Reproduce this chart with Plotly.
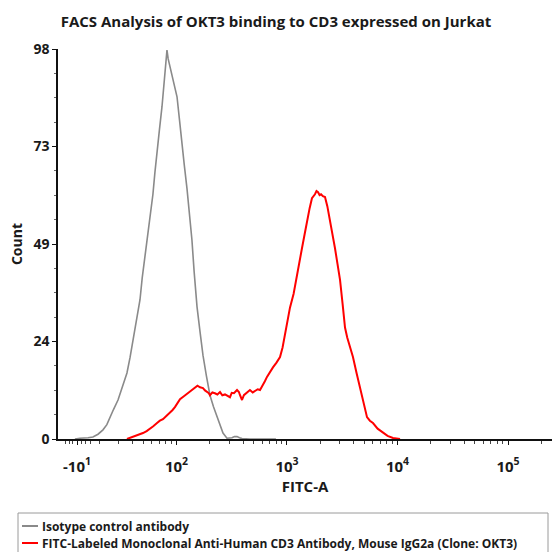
import numpy as np
import plotly.graph_objects as go

# ---- data (x in display units: decade position on the biexponential FITC axis) ----
iso_x = [1.081, 1.127, 1.200, 1.244, 1.290, 1.335, 1.370, 1.398, 1.430, 1.471, 1.510, 1.552,
         1.580, 1.606, 1.640, 1.670, 1.690, 1.715, 1.742, 1.765, 1.787, 1.805, 1.824, 1.845,
         1.869, 1.885, 1.896, 1.905, 1.914, 1.925, 1.941, 1.959, 1.980, 2.005, 2.028, 2.050,
         2.070, 2.095, 2.118, 2.140, 2.160, 2.186, 2.213, 2.240, 2.270, 2.303, 2.335, 2.367,
         2.395, 2.421, 2.457, 2.480, 2.502, 2.525, 2.548, 2.570, 2.593, 2.665, 2.900]
iso_y = [0.0, 0.2, 0.3, 0.5, 1.2, 2.3, 3.6, 5.5, 7.4, 9.8, 13.0, 16.6,
         20.5, 25.0, 30.0, 35.0, 40.5, 46.0, 52.0, 57.0, 61.5, 67.0, 73.0, 77.5,
         83.5, 88.0, 91.5, 95.5, 97.7, 95.5, 93.5, 91.9, 89.0, 86.0, 80.0, 75.0,
         69.0, 63.0, 56.5, 50.0, 42.0, 33.2, 27.0, 21.0, 16.0, 11.0, 8.1, 5.6,
         3.4, 1.5, 0.2, 0.2, 0.3, 0.6, 0.6, 0.3, 0.1, 0.0, 0.0]

okt3_x = [1.552, 1.590, 1.624, 1.660, 1.697, 1.730, 1.760, 1.790, 1.824, 1.850, 1.878, 1.910,
          1.941, 1.965, 1.986, 2.010, 2.032, 2.070, 2.104, 2.135, 2.167, 2.190, 2.213, 2.240,
          2.258, 2.276, 2.290, 2.303, 2.325, 2.348, 2.370, 2.394, 2.415, 2.439, 2.460, 2.484,
          2.500, 2.520, 2.548, 2.565, 2.575, 2.593, 2.610, 2.629, 2.650, 2.665, 2.690, 2.710,
          2.735, 2.756, 2.783, 2.800, 2.819, 2.845, 2.873, 2.905, 2.937, 2.960, 2.982, 3.005,
          3.027, 3.060, 3.090, 3.113, 3.136, 3.160, 3.181, 3.205, 3.226, 3.240, 3.253, 3.267,
          3.281, 3.295, 3.308, 3.325, 3.344, 3.365, 3.389, 3.410, 3.434, 3.457, 3.480, 3.503,
          3.525, 3.545, 3.561, 3.580, 3.597, 3.630, 3.661, 3.690, 3.724, 3.750, 3.778, 3.820,
          3.869, 3.910, 3.959, 4.023]
okt3_y = [0.0, 0.4, 0.6, 1.0, 1.5, 2.0, 2.5, 3.2, 4.0, 4.6, 5.0, 5.8,
          6.5, 7.3, 8.0, 9.0, 10.0, 10.8, 11.5, 12.3, 13.0, 13.4, 13.0, 12.8,
          12.2, 11.8, 11.6, 11.0, 11.7, 11.5, 11.2, 11.8, 11.0, 11.2, 10.8, 10.5,
          11.6, 11.5, 12.3, 11.8, 11.0, 9.8, 11.0, 11.5, 12.0, 12.3, 11.7, 12.0,
          12.5, 12.3, 13.5, 14.5, 15.6, 16.8, 18.0, 19.2, 20.6, 23.0, 26.6, 29.5,
          33.0, 36.5, 40.7, 44.5, 48.0, 51.5, 55.0, 58.0, 60.5, 61.0, 61.5, 62.3,
          62.0, 61.3, 61.5, 61.0, 60.8, 58.5, 55.0, 51.5, 48.0, 44.0, 40.0, 34.0,
          28.0, 25.5, 24.0, 22.5, 20.6, 16.5, 13.0, 9.0, 5.5, 4.6, 4.0, 2.6,
          1.5, 0.8, 0.25, 0.0]

series_names = ["Isotype control antibody",
                "FITC-Labeled Monoclonal Anti-Human CD3 Antibody, Mouse IgG2a (Clone: OKT3)"]
series_colors = ["#8a8a8a", "#ff0000"]

x_tickvals = [1.10, 2, 3, 4, 5]
x_ticktext = ["-10<sup>1</sup>", "10<sup>2</sup>", "10<sup>3</sup>", "10<sup>4</sup>", "10<sup>5</sup>"]
y_tickvals = [0, 24.5, 49, 73.5, 98]
y_ticktext = ["0", "24", "49", "73", "98"]

title_text = "FACS Analysis of OKT3 binding to CD3 expressed on Jurkat"
x_title = "FITC-A"
y_title = "Count"

# ---- layout geometry ----
W, H = 552, 552
L, R, T, B = 58, 0, 49, 113
PW, PH = W - L - R, H - T - B

def px_x(px):
    return (px - L) / PW

def px_y(py):
    return (H - B - py) / PH

minor_x = [1.0, 1.03, 1.06, 1.14, 1.18, 1.22]
for d in [1, 2, 3, 4, 5]:
    for k in range(2, 10):
        v = d + np.log10(k)
        if 1.25 < v < 5.4:
            minor_x.append(round(float(v), 4))

fig = go.Figure()
for xs, ys, c in [(iso_x, iso_y, series_colors[0]), (okt3_x, okt3_y, series_colors[1])]:
    fig.add_trace(go.Scatter(x=xs, y=ys, mode="lines",
                             line=dict(color=c, width=1.6 if c == series_colors[0] else 2),
                             showlegend=False, hoverinfo="skip"))

font_main = "Open Sans, Liberation Sans, sans-serif"

fig.update_layout(
    width=W, height=H,
    margin=dict(l=L, r=R, t=T, b=B),
    paper_bgcolor="white", plot_bgcolor="white",
    font=dict(family=font_main, color="#222222", size=13, weight="bold"),
    title=dict(text="<b>" + title_text + "</b>", x=0.5, xref="container", xanchor="center",
               y=1 - 22 / H, yref="container", yanchor="middle",
               font=dict(size=15, family=font_main, color="#1a1a1a")),
    xaxis=dict(range=[0.928, 5.398], showgrid=False, zeroline=False,
               showline=True, linecolor="#111111", linewidth=1.5,
               tickmode="array", tickvals=x_tickvals, ticktext=x_ticktext,
               ticks="outside", ticklen=4, tickcolor="#111111", tickwidth=1,
               ticklabelstandoff=9,
               tickfont=dict(size=15, family=font_main, color="#1a1a1a", weight="bold"),
               minor=dict(tickmode="array", tickvals=minor_x, ticks="outside",
                          ticklen=3, tickcolor="#444444", tickwidth=1),
               title=dict(text="<b>" + x_title + "</b>", standoff=5,
                          font=dict(size=15, family=font_main, color="#1a1a1a"))),
    yaxis=dict(range=[0, 98], showgrid=False, zeroline=False,
               showline=True, linecolor="#111111", linewidth=1.5,
               tickmode="array", tickvals=y_tickvals, ticktext=y_ticktext,
               ticks="outside", ticklen=4, tickcolor="#111111", tickwidth=1,
               tickfont=dict(size=14, family=font_main, color="#1a1a1a", weight="bold"),
               minor=dict(dtick=6.125, tick0=0, ticks="outside", ticklen=2,
                          tickcolor="#666666", tickwidth=1),
               title=dict(text="<b>" + y_title + "</b>", standoff=8,
                          font=dict(size=14, family=font_main, color="#1a1a1a"))),
)

# ---- legend box (drawn like the instrument export) ----
fig.add_shape(type="rect", xref="paper", yref="paper",
              x0=px_x(18), x1=px_x(548), y0=px_y(560), y1=px_y(513),
              line=dict(color="#9a9a9a", width=1), fillcolor="rgba(0,0,0,0)")
for i, (name, c) in enumerate(zip(series_names, series_colors)):
    yc = 526 + 17 * i
    fig.add_shape(type="line", xref="paper", yref="paper",
                  x0=px_x(22), x1=px_x(38), y0=px_y(yc), y1=px_y(yc),
                  line=dict(color=c, width=2))
    fig.add_annotation(xref="paper", yref="paper", x=px_x(40), y=px_y(yc),
                       xanchor="left", yanchor="middle", showarrow=False,
                       text="<b>" + name + "</b>",
                       font=dict(size=12, family=font_main, color="#1a1a1a"))

fig.write_html("out.html", config={"displayModeBar": False},
               post_script="document.body.style.margin='0';document.body.style.overflow='hidden';")
